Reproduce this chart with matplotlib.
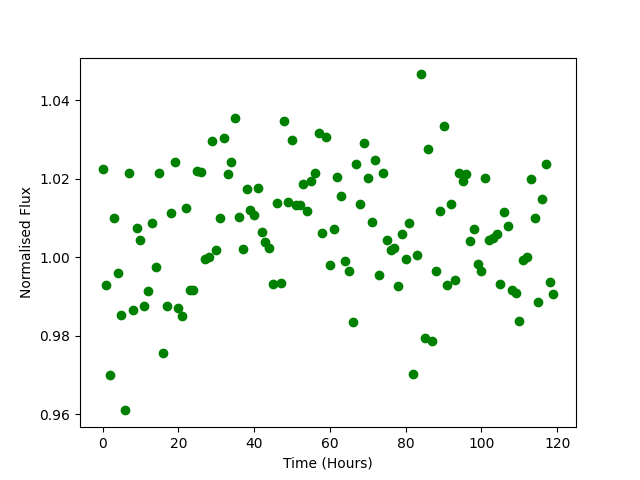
import numpy as np
import matplotlib
matplotlib.use("Agg")
import matplotlib.pyplot as plt

time_hours = list(range(120))
flux = [
    1.0224, 0.9929, 0.9700, 1.0100, 0.9959, 0.9852, 0.9610, 1.0216, 0.9865, 1.0074,
    1.0043, 0.9875, 0.9913, 1.0087, 0.9975, 1.0216, 0.9755, 0.9875, 1.0112, 1.0244,
    0.9870, 0.9850, 1.0125, 0.9916, 0.9916, 1.0220, 1.0218, 0.9995, 1.0000, 1.0296,
    1.0018, 1.0100, 1.0303, 1.0211, 1.0244, 1.0354, 1.0103, 1.0020, 1.0173, 1.0120,
    1.0107, 1.0176, 1.0064, 1.0038, 1.0025, 0.9931, 1.0138, 0.9934, 1.0347, 1.0140,
    1.0298, 1.0133, 1.0133, 1.0186, 1.0117, 1.0194, 1.0214, 1.0316, 1.0061, 1.0306,
    0.9980, 1.0071, 1.0204, 1.0155, 0.9990, 0.9964, 0.9834, 1.0239, 1.0135, 1.0290,
    1.0201, 1.0090, 1.0247, 0.9954, 1.0214, 1.0045, 1.0018, 1.0025, 0.9926, 1.0059,
    0.9995, 1.0087, 0.9704, 1.0005, 1.0466, 0.9794, 1.0275, 0.9786, 0.9964, 1.0117,
    1.0334, 0.9930, 1.0135, 0.9941, 1.0214, 1.0194, 1.0211, 1.0041, 1.0071, 0.9982,
    0.9964, 1.0201, 1.0043, 1.0048, 1.0059, 0.9931, 1.0115, 1.0079, 0.9918, 0.9908,
    0.9839, 0.9992, 1.0000, 1.0199, 1.0100, 0.9885, 1.0148, 1.0237, 0.9936, 0.9906,
]

fig, ax = plt.subplots(figsize=(6.4, 4.8), dpi=100)
ax.plot(time_hours, flux, 'o', color='green')
ax.set_xlabel('Time (Hours)')
ax.set_ylabel('Normalised Flux')
fig.savefig('out.png')
